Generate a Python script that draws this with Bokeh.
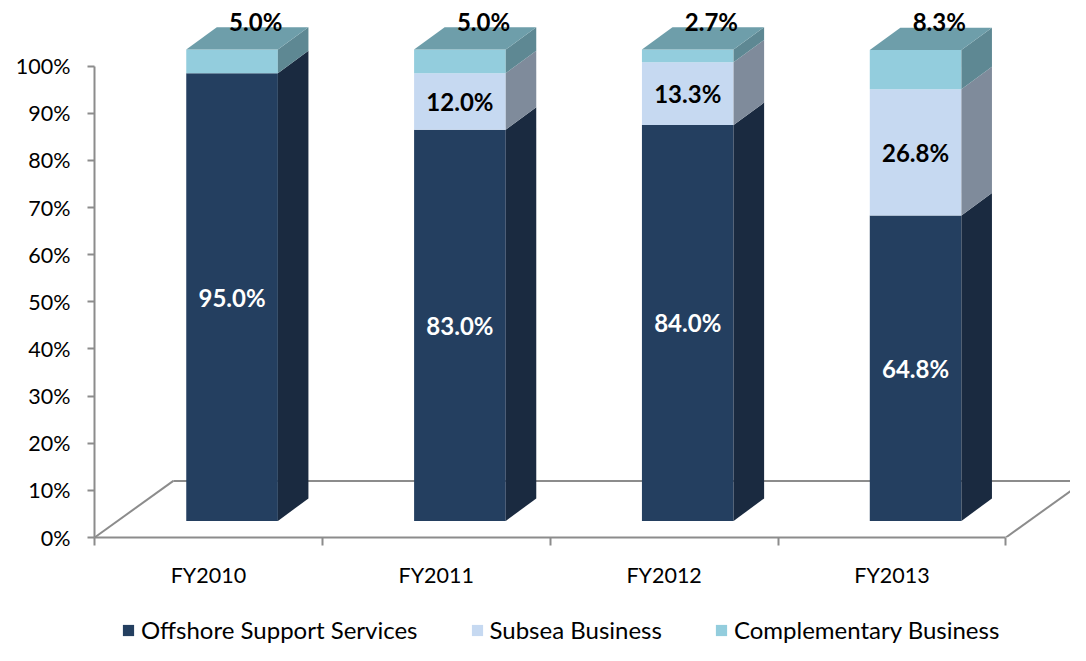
from bokeh.plotting import figure
from bokeh.layouts import column
from bokeh.models import Range1d, LinearAxis, FixedTicker, PrintfTickFormatter, Legend, LegendItem
from bokeh.embed import file_html
from bokeh.resources import INLINE
from bokeh.core.properties import value

# ---------------- data ----------------
categories = ["FY2010", "FY2011", "FY2012", "FY2013"]
series_names = ["Offshore Support Services", "Subsea Business", "Complementary Business"]
offshore = [95.0, 83.0, 84.0, 64.8]
subsea = [0.0, 12.0, 13.3, 26.8]
complementary = [5.0, 5.0, 2.7, 8.3]
y_ticks = [0, 10, 20, 30, 40, 50, 60, 70, 80, 90, 100]

# ---------------- styles ----------------
front_colors = ["#243F60", "#C6D9F1", "#93CDDD"]
side_colors = ["#1A2A40", "#7F8B9B", "#5E8893"]
top_color = "#6E9EAA"
label_colors = ["white", "black", "black"]
AXIS_COLOR = "#8C8C8C"
FONT = "Lato"

W, H = 1070, 645
LEG_H = 45
SX, SY = W / 1086, H / 661          # page scale vs. reference picture
LEFT = round(95 * SX)               # y-axis position
Y0 = 550 * SY                       # 0% baseline
PX_X = (1020 - 95) * SX / 4         # px per category
PX_Y = (550 - 67) * SY / 100        # px per percent

# 3D offsets in data units (category units / percent units)
REF_PX_X = (1020 - 95) / 4
REF_PX_Y = (550 - 67) / 100
bar_w = 93 / REF_PX_X
front_dx = 24 / REF_PX_X
front_dy = 17 / REF_PX_Y
side_dx = 31 / REF_PX_X
side_dy = 23 / REF_PX_Y
floor_dx = 80 / REF_PX_X
floor_dy = 58 / REF_PX_Y
lab_dx = 24 / REF_PX_X
lab_dy = 6 / REF_PX_Y

n = len(categories)
centers = [i + 0.5 for i in range(n)]
bounds = [float(i) for i in range(n + 1)]

frame_h = round(Y0)
main_h = H - LEG_H
p = figure(width=W, height=main_h,
           x_range=Range1d(0, (W - LEFT) / PX_X),
           y_range=Range1d(0, frame_h / PX_Y),
           x_axis_type=None, y_axis_type=None,
           output_backend="svg", toolbar_location=None,
           min_border_left=LEFT, min_border_right=0, min_border_top=0,
           min_border_bottom=main_h - frame_h)
p.outline_line_color = None
p.background_fill_color = "white"
p.border_fill_color = "white"

# y axis
yaxis = LinearAxis(ticker=FixedTicker(ticks=y_ticks),
                   formatter=PrintfTickFormatter(format="%d%%"),
                   bounds=(0, 100))
yaxis.axis_line_color = AXIS_COLOR
yaxis.axis_line_width = 2
yaxis.major_tick_line_color = AXIS_COLOR
yaxis.major_tick_line_width = 2
yaxis.major_tick_in = 0
yaxis.major_tick_out = 7
yaxis.minor_tick_line_color = None
yaxis.major_label_standoff = 17
yaxis.major_label_text_font = FONT
yaxis.major_label_text_font_size = "21.5px"
yaxis.major_label_text_color = "black"
p.add_layout(yaxis, "left")

# x axis
xaxis = LinearAxis(ticker=FixedTicker(ticks=centers, minor_ticks=bounds),
                   bounds=(0, n))
xaxis.major_label_overrides = {c: name for c, name in zip(centers, categories)}
xaxis.axis_line_color = AXIS_COLOR
xaxis.axis_line_width = 2
xaxis.major_tick_line_color = None
xaxis.major_tick_in = 0
xaxis.major_tick_out = 0
xaxis.minor_tick_line_color = AXIS_COLOR
xaxis.minor_tick_line_width = 2
xaxis.minor_tick_in = 0
xaxis.minor_tick_out = 8
xaxis.major_label_standoff = 16
xaxis.major_label_text_font = FONT
xaxis.major_label_text_font_size = "21.5px"
xaxis.major_label_text_color = "black"
p.add_layout(xaxis, "below")

# floor (3D base)
p.segment(x0=[0, n, floor_dx], y0=[0, 0, floor_dy],
          x1=[floor_dx, n + floor_dx, n + floor_dx + 1], y1=[floor_dy, floor_dy, floor_dy],
          line_color=AXIS_COLOR, line_width=2)

# bars
series_vals = [offshore, subsea, complementary]
cum = [0.0] * n
label_data = []
lefts = [c + front_dx - bar_w / 2 for c in centers]
rights = [c + front_dx + bar_w / 2 for c in centers]
for s, vals in enumerate(series_vals):
    bottoms = [cum[i] + front_dy for i in range(n)]
    tops = [cum[i] + vals[i] + front_dy for i in range(n)]
    p.quad(left=lefts, right=rights, bottom=bottoms, top=tops,
           fill_color=front_colors[s], line_color=None)
    xs = [[rights[i], rights[i] + side_dx, rights[i] + side_dx, rights[i]] for i in range(n)]
    ys = [[bottoms[i], bottoms[i] + side_dy, tops[i] + side_dy, tops[i]] for i in range(n)]
    p.patches(xs=xs, ys=ys, fill_color=side_colors[s], line_color=None)
    for i in range(n):
        if vals[i] > 0:
            label_data.append((s, i, (bottoms[i] + tops[i]) / 2, vals[i]))
    cum = [cum[i] + vals[i] for i in range(n)]

# top faces
tops = [cum[i] + front_dy for i in range(n)]
p.patches(xs=[[lefts[i], rights[i], rights[i] + side_dx, lefts[i] + side_dx] for i in range(n)],
          ys=[[tops[i], tops[i], tops[i] + side_dy, tops[i] + side_dy] for i in range(n)],
          fill_color=top_color, line_color=None)

# data labels
for s in range(3):
    xs_l, ys_l, txt = [], [], []
    for (ss, i, ymid, v) in label_data:
        if ss != s:
            continue
        if s == 2:
            xs_l.append(centers[i] + front_dx + lab_dx)
            ys_l.append(tops[i] + side_dy + lab_dy)
        else:
            xs_l.append(centers[i] + front_dx)
            ys_l.append(ymid)
        txt.append(f"{v:.1f}%")
    p.text(x=xs_l, y=ys_l, text=txt, text_align="center", text_baseline="middle",
           text_font=value(FONT), text_font_style="bold", text_font_size="24px",
           text_color=label_colors[s])

# ---------------- legend strip ----------------
pl = figure(width=W, height=LEG_H, x_range=Range1d(0, 1), y_range=Range1d(0, 1),
            x_axis_type=None, y_axis_type=None,
            output_backend="svg", toolbar_location=None,
            min_border_left=0, min_border_right=0, min_border_top=0, min_border_bottom=0)
pl.outline_line_color = None
pl.background_fill_color = "white"
pl.border_fill_color = "white"
# zero-area swatch renderers that only carry the legend colours
swatches = [pl.quad(left=[0], right=[0], bottom=[0], top=[0],
                    fill_color=front_colors[k], line_color=None)
            for k in range(3)]
legend = Legend(items=[LegendItem(label=series_names[k], renderers=[swatches[k]]) for k in range(3)],
                orientation="horizontal", location=(round(123 * SX) - LEFT, 1))
legend.glyph_width = 14
legend.glyph_height = 14
legend.label_height = 22
legend.label_text_font = FONT
legend.label_text_font_size = "24px"
legend.label_text_color = "black"
legend.label_standoff = 6
legend.spacing = 52
legend.padding = 0
legend.margin = 0
legend.border_line_color = None
legend.background_fill_alpha = 0
pl.add_layout(legend, "center")

layout = column(p, pl, spacing=0)
open("out.html", "w").write(file_html(layout, INLINE))
